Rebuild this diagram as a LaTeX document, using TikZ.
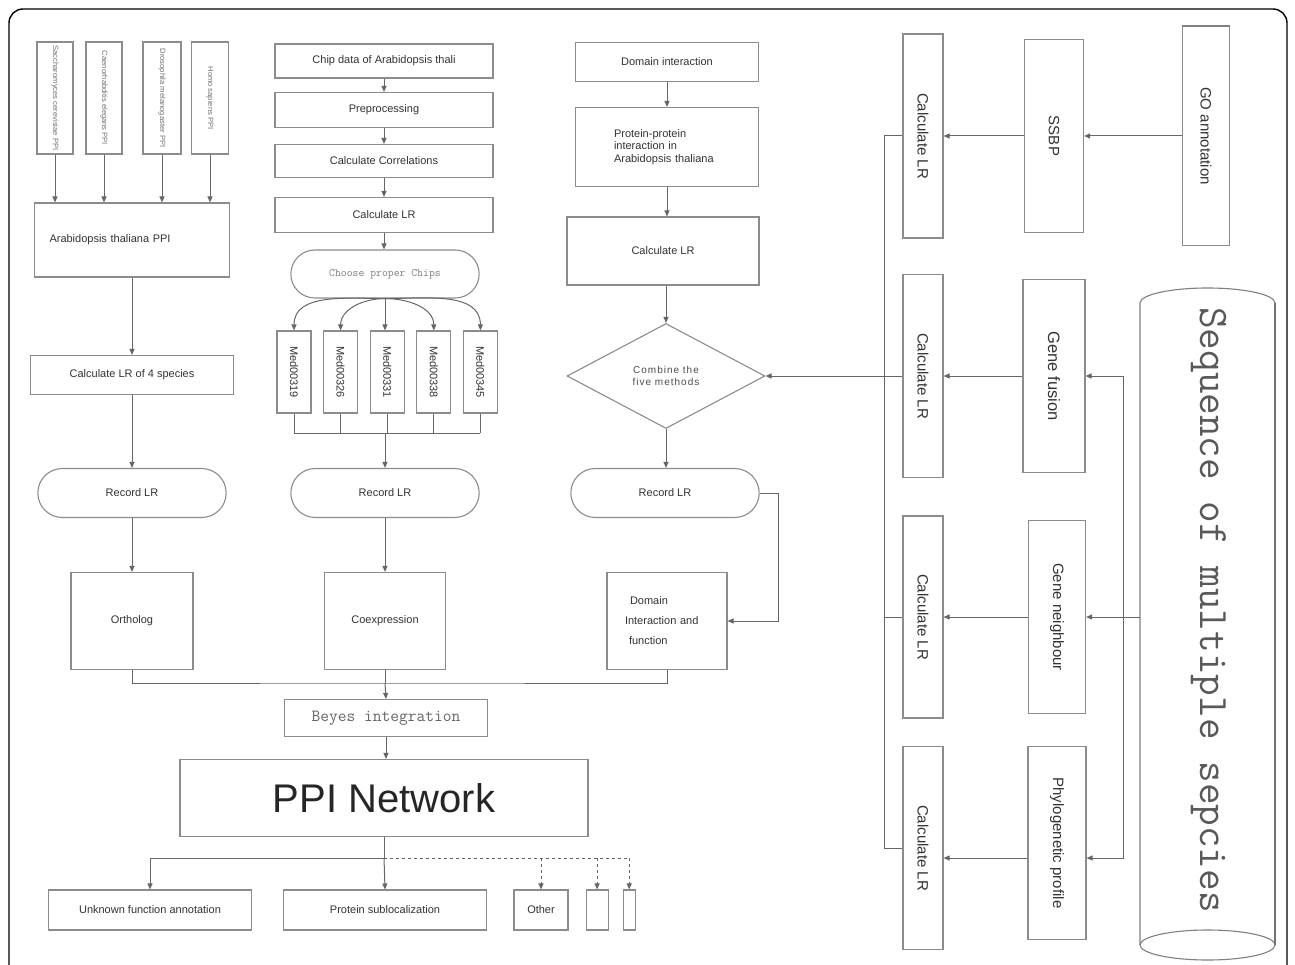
\documentclass[tikz,border=0pt]{standalone}
\usepackage{fontspec}
\setmainfont{Liberation Sans}
\usepackage{graphicx}
\usetikzlibrary{shapes.geometric, shapes.misc, arrows.meta, positioning}
\newfontfamily\spacedfont[LetterSpace=10]{Liberation Sans}
\newcommand{\vtxt}[1]{\rotatebox{-90}{#1}}
\tikzset{
  box/.style = {
    rectangle, draw=black!45, line width=1.1pt, fill=white,
    align=center, inner sep=1pt, text=black!80,
    font=\fontsize{11}{13}\selectfont
  },
  spbox/.style = {
    box, minimum width=36pt, minimum height=112pt,
    text=black!55, font=\fontsize{7.6}{9}\selectfont
  },
  medbox/.style = {box, minimum width=34pt, minimum height=82pt},
  rbox/.style = {box, minimum width=40pt, font=\fontsize{15}{18}\selectfont},
  pill/.style = {
    rounded rectangle, draw=black!45, line width=1.1pt, fill=white,
    minimum width=195pt, minimum height=49pt, text=black!80,
    font=\fontsize{11}{13}\selectfont
  },
  line/.style = {line width=1pt, black!60},
  arr/.style  = {-{Triangle[length=6pt,width=5pt]}, line width=1pt, black!60},
  darr/.style = {arr, dashed}
}

\begin{document}
\begin{tikzpicture}[x=1pt, y=-1pt]

\useasboundingbox (0,0) rectangle (1295,965);
\draw[line width=1.4pt, rounded corners=14pt] (9,9) rectangle (1287,995);

\node[spbox] (sp1) at (55,98) {\vtxt{Saccharomyces cerevisiae PPI}};
\node[spbox] (sp2) at (104,98) {\vtxt{Caenorhabditis elegans PPI}};
\node[spbox, minimum width=38pt] (sp3) at (162,98) {\vtxt{Drosophila melanogaster PPI}};
\node[spbox, minimum width=37pt] (sp4) at (210,98) {\vtxt{Homo sapiens PPI}};

\node[box, minimum width=195pt, minimum height=74pt, text width=165pt, align=left] (atppi) at (132,240)
      {Arabidopsis thaliana PPI};
\node[box, minimum width=203pt, minimum height=39pt] (calc4) at (132,375) {Calculate LR of 4 species};
\node[pill] (recL) at (132,493) {Record LR};
\node[box, minimum width=122pt, minimum height=97pt] (orth) at (132,621) {Ortholog};

\node[box, minimum width=218pt, minimum height=34pt] (chip) at (384,61) {Chip data of Arabidopsis thali};
\node[box, minimum width=218pt, minimum height=35pt] (prep) at (384,110) {Preprocessing};
\node[box, minimum width=218pt, minimum height=33pt] (corr) at (384,161) {Calculate Correlations};
\node[box, minimum width=218pt, minimum height=35pt] (lrM) at (384,215) {Calculate LR};
\node[pill, minimum height=48pt, text=black!50, font=\ttfamily\fontsize{11.4}{13}\selectfont] (choose) at (385,274)
      {Choose proper Chips};

\node[medbox] (m1) at (294,372) {\vtxt{Med00319}};
\node[medbox, right=11.5pt of m1] (m2) {\vtxt{Med00326}};
\node[medbox, right=11.5pt of m2] (m3) {\vtxt{Med00331}};
\node[medbox, right=11.5pt of m3] (m4) {\vtxt{Med00338}};
\node[medbox, right=11.5pt of m4] (m5) {\vtxt{Med00345}};

\node[pill] (recM) at (385,493) {Record LR};
\node[box, minimum width=121pt, minimum height=97pt] (coexp) at (385,621) {Coexpression};

\node[box, minimum width=183pt, minimum height=39pt] (dom) at (667,62) {Domain interaction};
\node[box, minimum width=183pt, minimum height=79pt, text width=106pt, align=left,
      font=\fontsize{11}{12.5}\selectfont] (ppia) at (667,147)
      {Protein-protein\\interaction in\\Arabidopsis thaliana};
\node[box, minimum width=192pt, minimum height=68pt] (lrR) at (663,251) {Calculate LR};
\node[diamond, aspect=1.9, draw=black!45, line width=1.1pt, fill=white, inner sep=0pt,
      minimum width=198pt, minimum height=105pt, align=center, text=black!70,
      font=\spacedfont\fontsize{10}{12}\selectfont] (comb) at (666,376)
      {Combine the\\five methods};
\node[pill] (recR) at (665,493) {Record LR};
\node[box, minimum width=120pt, minimum height=97pt, text width=84pt, align=left,
      font=\fontsize{11}{20}\selectfont] (domf) at (667,621)
      {\hspace*{5pt}Domain\\Interaction and\\\hspace*{4pt}function};

\node[box, minimum width=203pt, minimum height=37pt, text=black!60,
      font=\ttfamily\fontsize{17}{20}\selectfont] (beyes) at (386,718) {Beyes integration};
\node[box, minimum width=408pt, minimum height=77pt, text=black!85,
      font=\fontsize{40}{44}\selectfont] (ppi) at (384,798) {PPI Network};

\node[box, minimum width=203pt, minimum height=40pt] (unk) at (150,910) {Unknown function annotation};
\node[box, minimum width=203pt, minimum height=40pt] (subloc) at (385,910) {Protein sublocalization};
\node[box, minimum width=54pt, minimum height=40pt] (other) at (541,910) {Other};
\node[box, minimum width=22pt, minimum height=40pt, right=17pt of other] (ext1) {};
\node[box, minimum width=12pt, minimum height=40pt, right=14pt of ext1] (ext2) {};

\node[rbox, minimum height=204pt] (lr1) at (923,136) {\vtxt{Calculate LR}};
\node[rbox, minimum height=203pt] (lr2) at (923,376) {\vtxt{Calculate LR}};
\node[rbox, minimum height=202pt] (lr3) at (923,617) {\vtxt{Calculate LR}};
\node[rbox, minimum height=203pt] (lr4) at (923,848) {\vtxt{Calculate LR}};

\node[rbox, minimum width=59pt, minimum height=193pt] (ssbp) at (1054,136) {\vtxt{SSBP}};
\node[rbox, minimum width=62pt, minimum height=193pt, font=\fontsize{16.5}{19}\selectfont] (fus) at (1054,376)
      {\vtxt{Gene fusion}};
\node[rbox, minimum width=57pt, minimum height=193pt] (neigh) at (1057,617) {\vtxt{Gene neighbour}};
\node[rbox, minimum width=58pt, minimum height=193pt] (phylo) at (1057,843) {\vtxt{Phylogenetic profile}};
\node[rbox, minimum width=47pt, minimum height=219pt] (go) at (1206,136) {\vtxt{GO annotation}};
\draw[line width=2.5pt, black!50] (go.north west) -- (go.north east);

\draw[line width=1.1pt, black!50] (1140,945) -- (1140,303)
      arc[start angle=180, end angle=0, x radius=67.5pt, y radius=15pt] -- (1275,945);
\draw[line width=1.1pt, black!50] (1207.5,945) ellipse[x radius=67.5pt, y radius=15pt];
\draw[line width=2.5pt, black!55] (1275,303) -- (1275,945);
\node[text=black!65, font=\ttfamily\fontsize{42}{42}\selectfont] (seq) at (1209,610)
      {\vtxt{Sequence of multiple sepcies}};

\foreach \s in {sp1, sp2, sp3, sp4}
  \draw[arr] (\s.south) -- (\s.south |- atppi.north);

\foreach \a/\b in {atppi/calc4, calc4/recL, recL/orth, chip/prep, prep/corr, corr/lrM, lrM/choose,
                   recM/coexp, dom/ppia, ppia/lrR, comb/recR, beyes/ppi}
  \draw[arr] (\a.south) -- (\a.south |- \b.north);
\draw[arr] (lrR.south -| comb.north) -- (comb.north);

\foreach \m/\o in {m1/180, m2/180, m4/0, m5/0}
  \draw[arr] (choose.south) to[out=\o, in=90] (\m.north);
\draw[arr] (choose.south) -- (choose.south |- m3.north);

\coordinate (medbus) at (385,433);
\foreach \m in {m1, m2, m3, m4, m5}
  \draw[line] (\m.south) -- (\m.south |- medbus);
\draw[line] (m1.south |- medbus) -- (m5.south |- medbus);
\draw[arr] (medbus) -- (recM.north);

\draw[arr] (recR.east) -- ++(19,0) |- (domf.east);

\coordinate (bus) at (385,683);
\draw[line] (orth.south) |- (bus) -| (domf.south);
\draw[line] (coexp.south) -- (bus);
\draw[arr] (bus) -- (beyes.north);

\coordinate (split) at (384,858);
\draw[line] (ppi.south) -- (split);
\draw[arr] (split) -| (unk.north);
\draw[arr] (split) -- (subloc.north);
\draw[line, dashed] (split) -- (split -| ext2.north);
\foreach \n in {other, ext1, ext2}
  \draw[darr] (split -| \n.north) -- (\n.north);

\draw[arr] (go.west) -- (ssbp.east);
\draw[arr] (ssbp.west) -- (lr1.east);
\draw[arr] (fus.west) -- (lr2.east);
\draw[arr] (neigh.west) -- (lr3.east);
\draw[arr] ([yshift=-15pt]phylo.west) -- ([yshift=-15pt]phylo.west -| lr4.east);

\coordinate (lbus) at (884,848);
\draw[line] (lr1.west) -| (lbus) -- (lr4.west);
\foreach \n in {lr2, lr3}
  \draw[line] (\n.west) -- (\n.west -| lbus);
\draw[arr] (lr2.west -| lbus) -- (comb.east);

\coordinate (seqL) at (1140,617);
\coordinate (sbus) at (1123,617);
\draw[arr] (seqL) -- (neigh.east);
\draw[arr] (sbus) |- (fus.east);
\draw[arr] (sbus) |- ([yshift=-15pt]phylo.east);

\end{tikzpicture}
\end{document}
